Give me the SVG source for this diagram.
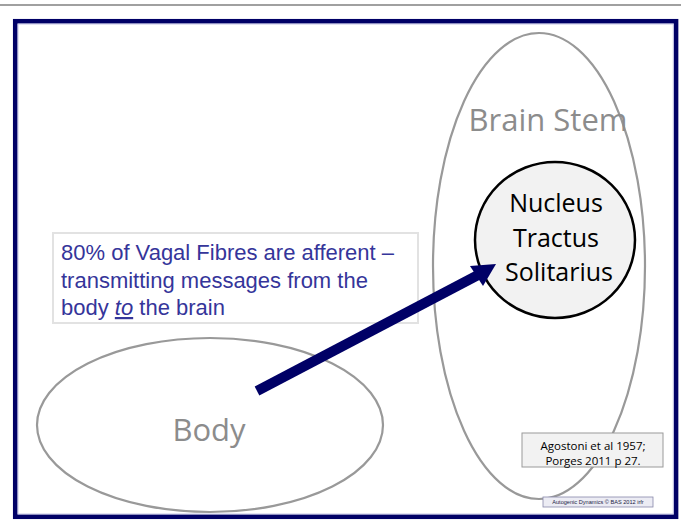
<svg xmlns="http://www.w3.org/2000/svg" width="681" height="520" viewBox="0 0 681 520">
<style>
.gray-ell{fill:none;stroke:#999999;stroke-width:2.2}
.lbl-gray{font-family:"Open Sans","Liberation Sans",sans-serif;fill:#8c8c8c;text-anchor:middle}
.nts{font-family:"Open Sans","Liberation Sans",sans-serif;font-size:25px;fill:#000;text-anchor:middle}
.note{font-family:"Liberation Sans",Arial,sans-serif;font-size:22px;fill:#35359a}
.ref{font-family:"Open Sans","Liberation Sans",sans-serif;font-size:11.5px;fill:#000;text-anchor:middle}
.credit{font-family:"Liberation Sans",Arial,sans-serif;font-size:5.6px;fill:#222244;text-anchor:middle}
</style>
<rect x="0" y="0" width="681" height="520" fill="#ffffff"/>
<rect x="0" y="4" width="681" height="2" fill="#a0a0a0"/>
<rect x="15.3" y="21.3" width="660.7" height="495.4" fill="#ffffff" stroke="#000066" stroke-width="4.7"/>
<rect x="18" y="24" width="655.3" height="490" fill="none" stroke="#c4c4e6" stroke-width="1"/>

<g id="brain-stem">
<ellipse cx="539" cy="266" rx="106" ry="233" class="gray-ell"/>
<text x="548" y="131" class="lbl-gray" font-size="31">Brain Stem</text>
</g>

<g id="body">
<ellipse cx="210" cy="425" rx="173" ry="87" class="gray-ell" stroke-width="2.5"/>
<text x="209" y="441" class="lbl-gray" font-size="31">Body</text>
</g>

<g id="note">
<rect x="53" y="233" width="365" height="90" fill="#ffffff" stroke="#e2e2e2" stroke-width="2"/>
<text x="61" y="260" class="note">80% of Vagal Fibres are afferent –</text>
<text x="61" y="287.5" class="note">transmitting messages from the</text>
<text x="61" y="315" class="note">body <tspan font-style="italic" text-decoration="underline">to</tspan> the brain</text>
</g>

<g id="nts">
<ellipse cx="555" cy="240" rx="80" ry="78" fill="#f2f2f2" stroke="#000000" stroke-width="2.5"/>
<text x="556" y="212" class="nts">Nucleus</text>
<text x="556" y="247" class="nts">Tractus</text>
<text x="559" y="281" class="nts">Solitarius</text>
</g>

<g id="connectors">
<line x1="257" y1="391" x2="480" y2="274" stroke="#000066" stroke-width="10"/>
<polygon points="496,264 470,266 483,286" fill="#000066"/>
</g>

<g id="reference">
<rect x="522" y="433" width="141" height="34" fill="#f2f2f2" stroke="#9a9a9a" stroke-width="1"/>
<text x="593" y="450" class="ref">Agostoni et al 1957;</text>
<text x="593" y="464.5" class="ref">Porges 2011 p 27.</text>
</g>

<g id="credit">
<rect x="543" y="497" width="110" height="10" fill="#ececf4" stroke="#8888aa" stroke-width="0.8"/>
<text x="598" y="504" class="credit">Autogenic Dynamics © BAS 2012 irfr</text>
</g>
</svg>
